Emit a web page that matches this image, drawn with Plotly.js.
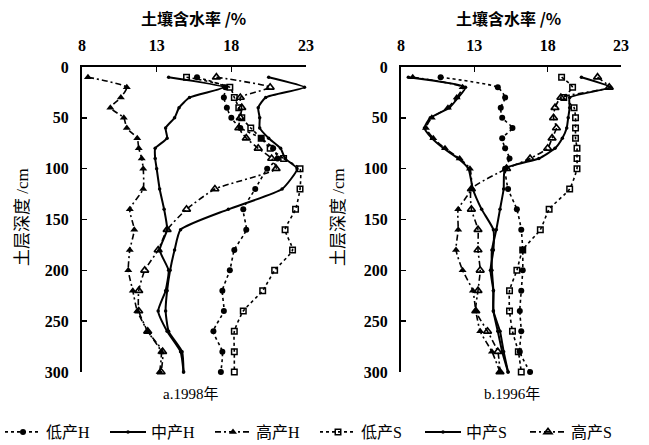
<!DOCTYPE html>
<html>
<head>
<meta charset="utf-8">
<script src="https://cdn.plot.ly/plotly-3.0.1.min.js"></script>
<style>html,body{margin:0;padding:0;background:#fff;}#chart{width:649px;height:445px;}</style>
</head>
<body>
<div id="chart"></div>
<script>
// depth (cm), shared by all series
const depths = [10,20,30,40,50,60,70,80,90,100,120,140,160,180,200,220,240,260,280,300];
const seriesNames = ['低产H','中产H','高产H','低产S','中产S','高产S'];
const xTicks = [8,13,18,23];
const yTicks = [0,50,100,150,200,250,300];

// a. 1998
const a_lowH  = [15.7,17.6,17.5,17.7,18.0,18.6,20.0,20.8,21.1,20.4,19.6,18.8,19.0,18.2,17.9,17.4,17.5,16.8,17.4,17.3];
const a_midH  = [13.8,17.5,15.2,14.5,14.2,13.6,13.7,12.9,12.9,13.0,13.2,13.5,13.7,13.2,13.8,13.6,13.1,13.7,14.6,14.8];
const a_highH = [8.4,11.0,10.6,9.9,10.8,11.0,11.7,11.8,12.0,12.1,12.1,11.2,11.5,11.2,11.1,11.4,11.7,12.4,13.3,13.2];
const a_lowS  = [15.0,17.9,18.2,18.5,18.7,19.3,20.0,20.6,21.5,22.6,22.6,22.3,21.6,22.1,20.9,20.1,18.8,18.2,18.2,18.2];
const a_midS  = [20.5,22.9,20.3,19.8,19.9,19.9,20.5,21.3,21.6,22.4,21.4,17.8,14.6,14.2,13.9,13.7,13.6,13.8,14.7,14.8];
const a_highS = [17.0,20.6,18.6,18.7,18.6,18.5,19.0,19.8,20.7,21.0,16.9,15.0,13.7,13.1,12.2,11.8,11.8,12.4,13.4,13.3];

// b. 1996
const b_lowH  = [10.7,14.6,15.1,14.8,14.9,15.6,14.9,15.1,15.4,15.1,15.3,15.9,16.2,16.3,16.3,16.2,16.1,16.2,16.1,16.8];
const b_midH  = [8.5,12.4,11.9,11.3,10.0,9.6,10.1,10.9,11.9,12.6,12.9,13.5,14.3,14.3,14.1,14.3,14.3,14.6,14.9,15.3];
const b_highH = [8.8,12.2,11.8,11.2,10.1,9.7,10.2,11.0,12.0,12.7,12.8,11.9,11.9,11.75,12.2,12.9,13.1,13.4,14.2,14.75];
const b_lowS  = [18.95,19.7,19.1,19.8,19.9,19.9,19.9,20.0,20.0,20.0,19.5,18.1,17.5,16.3,15.9,15.4,15.4,15.6,16.0,16.2];
const b_midS  = [20.3,22.3,19.5,19.5,19.4,19.3,19.0,18.5,17.4,15.1,15.0,14.75,14.5,14.2,14.2,14.3,14.3,14.75,15.0,15.3];
const b_highS = [21.4,22.2,18.9,18.5,18.4,18.6,18.3,18.0,16.8,15.2,12.8,12.8,13.25,13.25,13.4,13.25,13.1,13.9,14.6,14.75];

const styles = [
  {dash:'dot', width:1.6, marker:{symbol:'circle', size:6}},
  {dash:'solid', width:2, marker:{symbol:'circle', size:3.5}},
  {dash:'6px,3px,2px,3px', width:1.6, marker:{symbol:'triangle-up', size:7}},
  {dash:'dot', width:1.6, marker:{symbol:'square-open', size:5.5, line:{width:1.5}}},
  {dash:'solid', width:2, marker:{symbol:'circle', size:3.5}},
  {dash:'6px,3px,2px,3px', width:1.6, marker:{symbol:'triangle-up-open', size:7, line:{width:1.6}}}
];

const panelA = [a_lowH,a_midH,a_highH,a_lowS,a_midS,a_highS];
const panelB = [b_lowH,b_midH,b_highH,b_lowS,b_midS,b_highS];

const traces = [];
function addPanel(vals, xa, ya, showLeg){
  vals.forEach((v,i)=>{
    const s = styles[i];
    const m = Object.assign({color:'black'}, s.marker);
    if (m.line) m.line = Object.assign({color:'black'}, m.line);
    traces.push({
      type:'scatter', mode:'lines+markers',
      x:v, y:depths, xaxis:xa, yaxis:ya,
      name:seriesNames[i], legendgroup:seriesNames[i], showlegend:showLeg,
      line:{color:'black', width:s.width, dash:s.dash, shape:'spline', smoothing:0.5},
      marker:m, cliponaxis:false, hoverinfo:'skip'
    });
  });
}
addPanel(panelA,'x','y',true);
addPanel(panelB,'x2','y2',false);

const numFont = {family:'Liberation Serif, Times New Roman, serif', size:16, color:'black', weight:'bold'};
const yTop = 1-67/445, yBot = 1-372/445;
function xax(dom, anchor){
  return {domain:dom, anchor:anchor, side:'top', range:[8,23], tickmode:'array', tickvals:xTicks,
    ticks:'inside', ticklen:5, tickwidth:1.5, tickcolor:'black', showline:true, linewidth:2, linecolor:'black',
    showgrid:false, zeroline:false, tickfont:numFont, ticklabelstandoff:8, fixedrange:true, automargin:false};
}
function yax(anchor){
  return {domain:[yBot,yTop], anchor:anchor, range:[300,0], tickmode:'array', tickvals:yTicks,
    ticks:'inside', ticklen:5, tickwidth:1.5, tickcolor:'black', showline:true, linewidth:2, linecolor:'black',
    showgrid:false, zeroline:false, tickfont:numFont, ticklabelstandoff:8, fixedrange:true, automargin:false};
}
const cjk = 'Noto Sans CJK SC, sans-serif';
const serifCjk = 'Liberation Serif, Noto Sans CJK SC, serif';
const layout = {
  width:649, height:445, margin:{l:0,r:0,t:0,b:0, autoexpand:false},
  paper_bgcolor:'white', plot_bgcolor:'white',
  xaxis: xax([82/649,306/649],'y'),
  yaxis: yax('x'),
  xaxis2: xax([401/649,621/649],'y2'),
  yaxis2: yax('x2'),
  showlegend:true,
  legend:{orientation:'h', x:0, xanchor:'left', y:1-432/445, yanchor:'middle',
    font:{family:serifCjk, size:16, color:'black'}, entrywidth:54, entrywidthmode:'pixels',
    itemwidth:36, bgcolor:'rgba(0,0,0,0)', tracegroupgap:0, borderwidth:0},
  annotations:[
    {text:'土壤含水率 /%', xref:'paper', yref:'paper', x:193/649, y:1-18/445, showarrow:false, xanchor:'center', yanchor:'middle', font:{family:cjk, size:16, color:'black', weight:'bold'}},
    {text:'土壤含水率 /%', xref:'paper', yref:'paper', x:508/649, y:1-18/445, showarrow:false, xanchor:'center', yanchor:'middle', font:{family:cjk, size:16, color:'black', weight:'bold'}},
    {text:'土层深度 /cm', xref:'paper', yref:'paper', x:22/649, y:1-217/445, textangle:-90, showarrow:false, xanchor:'center', yanchor:'middle', font:{family:serifCjk, size:17, color:'black'}},
    {text:'土层深度 /cm', xref:'paper', yref:'paper', x:338/649, y:1-217/445, textangle:-90, showarrow:false, xanchor:'center', yanchor:'middle', font:{family:serifCjk, size:17, color:'black'}},
    {text:'a.1998年', xref:'paper', yref:'paper', x:190/649, y:1-394/445, showarrow:false, xanchor:'center', yanchor:'middle', font:{family:serifCjk, size:15, color:'black'}},
    {text:'b.1996年', xref:'paper', yref:'paper', x:512/649, y:1-394/445, showarrow:false, xanchor:'center', yanchor:'middle', font:{family:serifCjk, size:15, color:'black'}}
  ]
};
Plotly.newPlot('chart', traces, layout, {staticPlot:true, displayModeBar:false});
</script>
</body>
</html>
